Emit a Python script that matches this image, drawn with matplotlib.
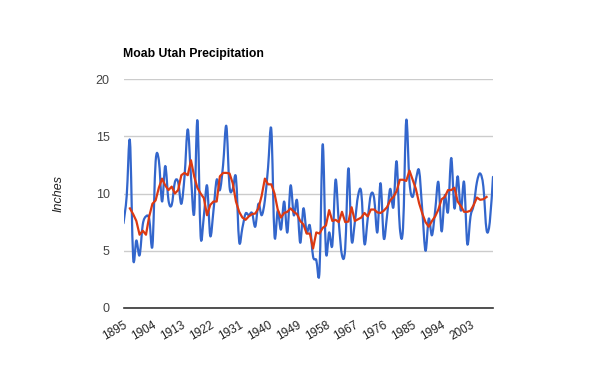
import matplotlib
matplotlib.use('Agg')
import matplotlib.pyplot as plt
from matplotlib.path import Path
from matplotlib.patches import PathPatch

# Annual precipitation, Moab Utah (inches)
years = list(range(1895, 2011))
precip = [
    7.4, 9.8, 14.6, 4.4, 5.9, 4.6, 7.3, 8.0, 7.8, 5.4,          # 1895-1904
    12.8, 12.9, 9.3, 12.4, 9.4, 9.0, 11.0, 11.0, 9.1, 11.5,     # 1905-1914
    15.6, 11.5, 8.25, 16.4, 6.3, 8.0, 10.7, 6.3, 8.5, 11.2,     # 1915-1924
    10.3, 12.5, 15.9, 10.6, 10.4, 11.4, 5.8, 7.0, 8.25, 8.1,    # 1925-1934
    8.3, 7.1, 9.1, 8.1, 9.4, 12.3, 15.6, 6.3, 8.5, 6.85,        # 1935-1944
    9.3, 6.6, 10.7, 8.1, 9.4, 5.7, 8.7, 6.6, 7.2, 4.5,          # 1945-1954
    4.2, 3.2, 14.3, 4.9, 6.6, 5.5, 11.2, 7.5, 4.6, 5.2,         # 1955-1964
    12.2, 5.9, 7.5, 9.8, 10.1, 5.6, 7.8, 9.9, 9.6, 6.6,         # 1965-1974
    10.9, 6.1, 8.0, 10.4, 8.8, 12.8, 7.0, 7.0, 16.4, 11.0,      # 1975-1984
    9.7, 11.2, 12.0, 8.5, 5.0, 7.8, 6.35, 8.5, 11.0, 6.7,       # 1985-1994
    9.85, 8.4, 13.1, 8.7, 11.5, 8.5, 11.0, 5.6, 8.0, 9.0,       # 1995-2004
    11.0, 11.75, 10.6, 6.8, 7.5, 11.45,                         # 2005-2010
]

# 5 year average (red line)
avg_years = list(range(1897, 2009))
precip_avg = [
    8.7, 8.2, 7.6, 6.4, 6.75, 6.4, 8.0, 9.1, 9.4, 10.5,         # 1897-1906
    11.3, 10.7, 10.3, 10.6, 10.0, 10.3, 11.6, 11.8, 11.6, 12.9, # 1907-1916
    11.5, 10.5, 10.0, 9.6, 8.1, 9.0, 9.3, 9.3, 11.5, 11.8,      # 1917-1926
    11.8, 11.75, 10.9, 9.3, 8.4, 7.9, 7.7, 8.0, 8.2, 8.25,      # 1927-1936
    8.7, 9.8, 11.3, 10.8, 10.8, 10.0, 8.6, 7.9, 8.3, 8.4,       # 1937-1946
    8.7, 8.4, 8.2, 7.6, 7.3, 6.5, 6.5, 5.2, 6.6, 6.5,           # 1947-1956
    7.0, 7.2, 8.55, 7.6, 7.7, 7.5, 8.4, 7.5, 7.55, 8.8,         # 1957-1966
    7.6, 7.75, 7.9, 8.3, 8.0, 8.6, 8.6, 8.35, 8.3, 8.5,         # 1967-1976
    8.8, 9.4, 9.7, 10.2, 11.2, 11.2, 11.1, 12.0, 11.2, 10.4,    # 1977-1986
    9.15, 8.25, 7.5, 7.1, 7.6, 8.0, 8.6, 9.5, 9.7, 10.3,        # 1987-1996
    10.3, 10.5, 9.3, 8.9, 8.4, 8.4, 8.5, 9.0, 9.65, 9.45,       # 1997-2006
    9.5, 9.7,                                                   # 2007-2008
]

tick_years = list(range(1895, 2011, 9))
y_ticks = [0, 5, 10, 15, 20]

BLUE = '#3366cc'
RED = '#dc3912'

plt.rcParams['font.family'] = ['Liberation Sans', 'DejaVu Sans']


# Smooth curve like google's curveType 'function' (catmull-rom -> bezier)
def smooth_path(xs, ys):
    pts = list(zip(xs, ys))
    verts = [pts[0]]
    codes = [Path.MOVETO]
    n = len(pts)
    for i in range(n - 1):
        p0 = pts[i - 1] if i > 0 else pts[i]
        p1 = pts[i]
        p2 = pts[i + 1]
        p3 = pts[i + 2] if i + 2 < n else pts[i + 1]
        c1 = (p1[0] + (p2[0] - p0[0]) / 6.0, p1[1] + (p2[1] - p0[1]) / 6.0)
        c2 = (p2[0] - (p3[0] - p1[0]) / 6.0, p2[1] - (p3[1] - p1[1]) / 6.0)
        verts += [c1, c2, p2]
        codes += [Path.CURVE4] * 3
    return Path(verts, codes)


fig = plt.figure(figsize=(6, 3.71), dpi=100)
ax = fig.add_axes([123.5 / 600, 1 - 308 / 371, 369.5 / 600, 229 / 371])

x_idx = [y - years[0] for y in years]
avg_idx = [y - years[0] for y in avg_years]

patch = PathPatch(smooth_path(x_idx, precip), facecolor='none',
                  edgecolor=BLUE, lw=1.6, zorder=3, capstyle='round',
                  joinstyle='round')
ax.add_patch(patch)
ax.plot(avg_idx, precip_avg, color=RED, lw=1.6, zorder=4,
        solid_joinstyle='round')

ax.set_xlim(0, len(years) - 1)
ax.set_ylim(0, 20)

ax.set_yticks(y_ticks)
ax.set_yticklabels([str(v) for v in y_ticks], fontsize=9, color='#444444')
ax.set_xticks([y - years[0] for y in tick_years])
ax.set_xticklabels([str(y) for y in tick_years], fontsize=8.5, color='#222222',
                   rotation=30, ha='right', va='top', rotation_mode='anchor')
ax.tick_params(axis='both', length=0)
ax.tick_params(axis='y', pad=10)
ax.tick_params(axis='x', pad=8)

ax.grid(axis='y', color='#cccccc', lw=1)
ax.set_axisbelow(True)
for s in ['top', 'right', 'left']:
    ax.spines[s].set_visible(False)
ax.spines['bottom'].set_color('#333333')
ax.spines['bottom'].set_linewidth(1.2)
ax.spines['bottom'].set_zorder(5)

fig.text(123 / 600, 1 - 54 / 371, 'Moab Utah Precipitation', fontsize=8.8,
         fontweight='bold', ha='left', va='center', color='#000000')
fig.text(58 / 600, 1 - 193 / 371, 'Inches', fontsize=9, style='italic',
         rotation=90, ha='center', va='center', color='#222222')

fig.savefig('out.png', dpi=100)
